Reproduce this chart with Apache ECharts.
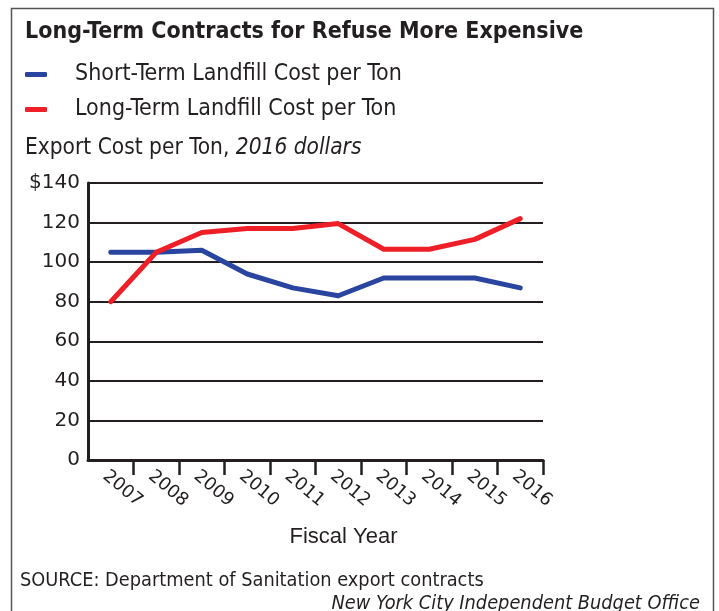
<!DOCTYPE html>
<html>
<head>
<meta charset="utf-8">
<script src="https://cdn.jsdelivr.net/npm/echarts@6/dist/echarts.min.js"></script>
<style>
  html, body { margin: 0; padding: 0; background: #fff; }
  #chart { width: 719px; height: 611px; }
</style>
</head>
<body>
<div id="chart"></div>
<script>
let years = ['2007', '2008', '2009', '2010', '2011', '2012', '2013', '2014', '2015', '2016'];
let shortTerm = [105, 105, 106, 94, 87, 83, 92, 92, 92, 87];
let longTerm = [80, 105, 115, 117, 117, 119.5, 106.5, 106.5, 111.5, 122];

let narrow = '"DejaVu Sans Condensed", "Liberation Sans Narrow", sans-serif';
let plain = '"Liberation Sans", Arial, sans-serif';
let tickFont = '"DejaVu Sans", sans-serif';
let ink = '#231f20';

let chart = echarts.init(document.getElementById('chart'));

option = {
  backgroundColor: '#fff',
  animation: false,
  title: [
    {
      text: 'Long-Term Contracts for Refuse More Expensive',
      left: 20, top: 16,
      textStyle: { fontFamily: narrow, fontWeight: 'bold', fontSize: 23, color: ink }
    },
    {
      text: '{a|Export Cost per Ton, }{b|2016 dollars}',
      left: 20, top: 132,
      textStyle: {
        fontWeight: 'normal',
        rich: {
          a: { fontFamily: narrow, fontWeight: 'normal', fontSize: 22.5, color: ink },
          b: { fontFamily: narrow, fontWeight: 'normal', fontSize: 22.5, fontStyle: 'italic', color: ink }
        }
      }
    },
    {
      text: 'SOURCE: Department of Sanitation export contracts',
      left: 15, top: 566,
      textStyle: { fontFamily: narrow, fontWeight: 'normal', fontSize: 19.8, color: ink }
    },
    {
      text: 'New York City Independent Budget Office',
      right: 14, top: 589,
      textStyle: { fontFamily: narrow, fontWeight: 'normal', fontStyle: 'italic', fontSize: 19.8, color: ink }
    }
  ],
  legend: {
    orient: 'vertical',
    left: 20, top: 58,
    itemWidth: 22, itemHeight: 5,
    itemGap: 12,
    icon: 'roundRect',
    textStyle: { fontFamily: narrow, fontSize: 23, color: ink, padding: [0, 0, 0, 23] },
    data: ['Short-Term Landfill Cost per Ton', 'Long-Term Landfill Cost per Ton']
  },
  grid: { left: 88, right: 176, top: 183, bottom: 151 },
  xAxis: {
    type: 'category',
    data: years,
    boundaryGap: true,
    name: 'Fiscal Year',
    nameLocation: 'middle',
    nameGap: 66,
    nameTextStyle: { fontFamily: plain, fontSize: 22, color: ink, padding: [0, 0, 0, 56] },
    axisLine: { lineStyle: { color: ink, width: 3 } },
    axisTick: {
      show: true, length: 15,
      interval: i => i !== 0,
      lineStyle: { color: ink, width: 2.5 }
    },
    axisLabel: {
      rotate: -40, margin: 7, verticalAlign: 'top',
      fontFamily: tickFont, fontSize: 18, color: ink
    }
  },
  yAxis: {
    type: 'value',
    min: 0, max: 140, interval: 20,
    axisLine: { show: true, lineStyle: { color: ink, width: 3 } },
    axisTick: { show: false },
    splitLine: { lineStyle: { color: ink, width: 2 } },
    axisLabel: {
      margin: 8, fontFamily: tickFont, fontSize: 20, color: ink,
      formatter: v => (v === 140 ? '$' + v : v)
    }
  },
  graphic: [
    {
      type: 'rect',
      shape: { x: 11.5, y: 8.5, width: 702, height: 620 },
      style: { fill: 'none', stroke: '#555', lineWidth: 1.5 },
      silent: true
    }
  ],
  series: [
    {
      name: 'Short-Term Landfill Cost per Ton',
      type: 'line',
      data: shortTerm,
      symbol: 'none',
      color: '#2a45a0',
      lineStyle: { width: 5, cap: 'round', join: 'round' }
    },
    {
      name: 'Long-Term Landfill Cost per Ton',
      type: 'line',
      data: longTerm,
      symbol: 'none',
      color: '#ee1f27',
      lineStyle: { width: 5, cap: 'round', join: 'round' }
    }
  ]
};

chart.setOption(option);
</script>
</body>
</html>
